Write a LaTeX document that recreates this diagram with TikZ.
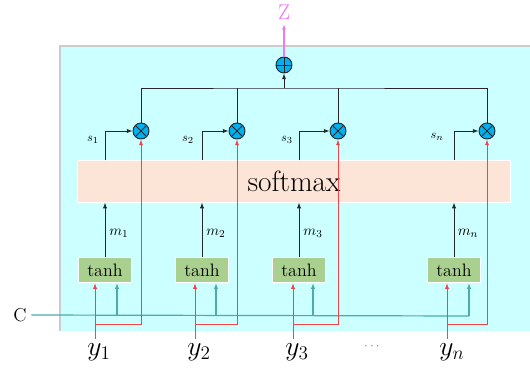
\documentclass[tikz,border=0pt]{standalone}
\usepackage{amsmath}
\usetikzlibrary{arrows.meta,positioning}
\definecolor{panelcyan}{RGB}{204,255,255}
\definecolor{peach}{RGB}{252,228,214}
\definecolor{leaf}{RGB}{169,208,142}
\definecolor{skyball}{RGB}{0,176,240}
\definecolor{tealc}{RGB}{75,172,172}
\definecolor{redline}{RGB}{240,70,70}
\definecolor{violetz}{RGB}{240,120,240}

\begin{document}
\begin{tikzpicture}[
x=0.75pt, y=-0.75pt,
tanhbox/.style={fill=leaf, draw=white, line width=0.6pt, minimum width=40pt, minimum height=19pt, inner sep=0pt, font=\fontsize{13.5}{14}\selectfont},
softbox/.style={fill=peach, draw=white, line width=0.6pt, minimum width=325pt, minimum height=31pt, inner sep=0pt, font=\fontsize{22}{24}\selectfont},
mulop/.style={circle, draw=black!85, fill=skyball, line width=0.7pt, minimum size=12pt, inner sep=0pt, path picture={\draw[black!85, line width=0.7pt] (path picture bounding box.north west) -- (path picture bounding box.south east) (path picture bounding box.north east) -- (path picture bounding box.south west);}},
sumop/.style={circle, draw=black!85, fill=skyball, line width=0.7pt, minimum size=12pt, inner sep=0pt, path picture={\draw[black!85, line width=0.7pt] (path picture bounding box.north) -- (path picture bounding box.south) (path picture bounding box.west) -- (path picture bounding box.east);}},
lbl/.style={inner sep=0pt, font=\fontsize{9.5}{10}\selectfont},
arrow/.style={-{Latex[length=1.5mm, width=1.1mm]}, black!85, line width=0.6pt},
line/.style={black!85, line width=0.6pt},
redarrow/.style={-{Latex[length=1.5mm, width=1.1mm]}, redline, line width=0.7pt},
tealarrow/.style={-{Latex[length=1.5mm, width=1.1mm]}, tealc, line width=0.9pt}
]
\useasboundingbox (0,0) rectangle (530,370);
% panel
\fill[panelcyan] (60,46) rectangle (530,331);
\draw[black!20, line width=0.8pt] (60,331) -- (60,46) -- (530,46);

\node[softbox] (soft) at (294,181.5) {softmax};
\node[tanhbox] (t1) at (105,270) {tanh};
\node[tanhbox] (t2) at (202,270) {tanh};
\node[tanhbox] (t3) at (299,270) {tanh};
\node[tanhbox] (t4) at (454,270) {tanh};

\node[mulop] (mul1) at (141,131) {};
\node[mulop] (mul2) at (237,131) {};
\node[mulop] (mul3) at (338,131) {};
\node[mulop] (mul4) at (487,131) {};
\node[sumop] (sum) at (284,65) {};
\node[text=violetz, font=\fontsize{16}{17}\selectfont] (Z) at (284,12) {Z};
\coordinate (bus) at (284,88);

% inputs
\node[font=\fontsize{14}{15}\selectfont] (C) at (20,315) {C};
\node[font=\fontsize{22}{24}\selectfont] (y1) at (99,352) {$y_1$};
\node[font=\fontsize{22}{24}\selectfont] (y2) at (199,352) {$y_2$};
\node[font=\fontsize{22}{24}\selectfont] (y3) at (297,352) {$y_3$};
\node[font=\fontsize{22}{24}\selectfont] (yn) at (452,352) {$y_n$};
\node[text=black!50, font=\fontsize{10}{11}\selectfont] (dots) at (373,347) {$\cdots$};

\coordinate (r1) at (95,324);
\coordinate (r2) at (195,324);
\coordinate (r3) at (293,324);
\coordinate (r4) at (447,324);
\coordinate (c1) at (117,316);
\coordinate (c2) at (216,316);
\coordinate (c3) at (313,316);
\coordinate (c4) at (469,316);

% labels
\node[lbl] (s1) at (93,140) {$s_1$};
\node[lbl] (s2) at (188,140) {$s_2$};
\node[lbl] (s3) at (287,140) {$s_3$};
\node[lbl] (sn) at (437,137) {$s_n$};
\node[lbl, font=\fontsize{11}{12}\selectfont] (m1) at (119,233) {$m_1$};
\node[lbl, font=\fontsize{11}{12}\selectfont] (m2) at (216,233) {$m_2$};
\node[lbl, font=\fontsize{11}{12}\selectfont] (m3) at (313,233) {$m_3$};
\node[lbl, font=\fontsize{11}{12}\selectfont] (mn) at (468,233) {$m_n$};

% C line
\draw[tealc, line width=0.9pt] (C.east) -- (c4);
\draw[tealarrow] (c1) -- (c1 |- t1.south);
\draw[tealarrow] (c2) -- (c2 |- t2.south);
\draw[tealarrow] (c3) -- (c3 |- t3.south);
\draw[tealarrow] (c4) -- (c4 |- t4.south);

% y inputs
\draw[redarrow] (r1 |- y1.north) -- (r1 |- t1.south);
\draw[redarrow] (r2 |- y2.north) -- (r2 |- t2.south);
\draw[redarrow] (r3 |- y3.north) -- (r3 |- t3.south);
\draw[redarrow] (r4 |- yn.north) -- (r4 |- t4.south);
\draw[redarrow] (r1) -| (mul1.south);
\draw[redarrow] (r2) -| (mul2.south);
\draw[redarrow] (r3) -| (mul3.south);
\draw[redarrow] (r4) -| (mul4.south);

% tanh to softmax
\draw[arrow] (t1.north) -- (t1.north |- soft.south);
\draw[arrow] (t2.north) -- (t2.north |- soft.south);
\draw[arrow] (t3.north) -- (t3.north |- soft.south);
\draw[arrow] (t4.north) -- (t4.north |- soft.south);

% softmax to products
\draw[arrow] (t1 |- soft.north) |- (mul1.west);
\draw[arrow] (t2 |- soft.north) |- (mul2.west);
\draw[arrow] (t3 |- soft.north) |- (mul3.west);
\draw[arrow] (t4 |- soft.north) |- (mul4.west);

% sum
\draw[line] (mul1.north) |- (bus) -| (mul4.north);
\draw[line] (mul2.north) -- (mul2.north |- bus);
\draw[line] (mul3.north) -- (mul3.north |- bus);
\draw[arrow] (bus) -- (sum.south);
\draw[-{Latex[length=1.5mm, width=1.1mm]}, violetz, line width=0.8pt] (sum.north) -- (Z.south);
\end{tikzpicture}
\end{document}
